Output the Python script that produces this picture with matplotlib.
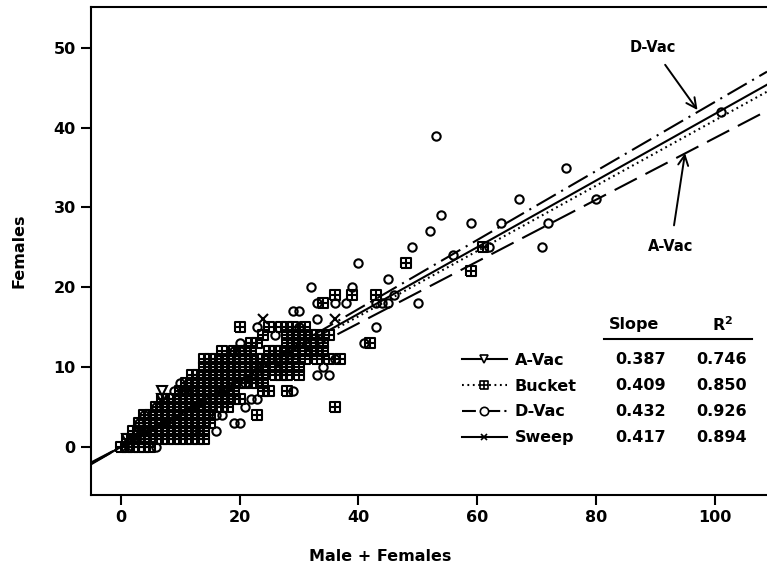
import numpy as np
import matplotlib
matplotlib.use("Agg")
import matplotlib.pyplot as plt
from matplotlib.path import Path
from matplotlib.lines import Line2D

plt.rcParams['font.family'] = ['DejaVu Sans']
plt.rcParams['font.weight'] = 'bold'
plt.rcParams['lines.scale_dashes'] = False

# regression summary
groups = ['A-Vac', 'Bucket', 'D-Vac', 'Sweep']
slopes = [0.387, 0.409, 0.432, 0.417]
r2 = [0.746, 0.850, 0.926, 0.894]

# Bucket samples, one row per female count
bucket_rows_y = [0, 1, 2, 3, 4, 5, 6, 7, 8, 9, 10, 11, 12, 13, 14, 15, 18, 19, 22, 23, 25]
bucket_rows_x = [
    [0, 1, 2, 3, 4, 5],
    [1, 2, 3, 4, 5, 6, 7, 8, 9, 10, 11, 12, 13, 14],
    [2, 3, 4, 5, 6, 7, 8, 9, 10, 11, 12, 13, 14],
    [3, 4, 5, 6, 7, 8, 9, 10, 11, 12, 13, 14, 15],
    [4, 5, 6, 7, 8, 9, 10, 11, 12, 13, 14, 15, 23],
    [6, 7, 8, 9, 10, 11, 12, 13, 14, 15, 16, 17, 18, 36],
    [7, 8, 9, 10, 11, 12, 13, 14, 15, 16, 17, 18, 19, 20],
    [10, 11, 12, 13, 14, 15, 16, 17, 18, 19, 24, 25, 28],
    [11, 12, 13, 14, 15, 16, 17, 18, 19, 20, 21, 22, 23, 24],
    [12, 13, 14, 15, 16, 17, 18, 19, 20, 21, 22, 23, 24, 26, 27, 28, 30],
    [14, 15, 16, 17, 18, 19, 20, 21, 22, 23, 24, 26, 27, 28, 30],
    [14, 15, 16, 17, 18, 19, 20, 21, 22, 23, 24, 25, 26, 27, 28, 29, 31, 33, 35, 37],
    [17, 19, 20, 21, 22, 25, 26, 27, 28, 29, 31, 32, 33, 34],
    [22, 23, 28, 29, 30, 31, 32, 34, 42],
    [24, 28, 29, 30, 31, 32, 33, 35],
    [20, 25, 27, 28, 29, 31],
    [34],
    [36, 39, 43],
    [59],
    [48],
    [61],
]

dvac_x = [6, 16, 3, 19, 20, 4, 16, 17, 6, 21, 22, 23, 9, 11, 12, 29, 10, 21, 33, 35,
          34, 36, 19, 20, 20, 41, 26, 23, 30, 43, 33, 29, 30, 33, 36, 38, 43, 44, 45, 50,
          46, 32, 39, 45, 40, 56, 49, 62, 71, 52, 59, 64, 72, 54, 67, 80, 75, 53, 101]
dvac_y = [0, 2, 3, 3, 3, 4, 4, 4, 5, 5, 6, 6, 7, 7, 7, 7, 8, 8, 9, 9,
          10, 11, 12, 12, 13, 13, 14, 15, 15, 15, 16, 17, 17, 18, 18, 18, 18, 18, 18, 18,
          19, 20, 20, 21, 23, 24, 25, 25, 25, 27, 28, 28, 28, 29, 31, 31, 35, 39, 42]

avac_x = [7, 7, 1, 2, 4, 3]
avac_y = [7, 6, 1, 1, 2, 2]

sweep_x = [24, 36, 1, 3, 13, 8]
sweep_y = [16, 16, 0, 1, 2, 3]

bucket_x = [x for row in bucket_rows_x for x in row]
bucket_y = [y for y, row in zip(bucket_rows_y, bucket_rows_x) for _ in row]

# square with a cross inside, like the bucket symbol
grid_sq = Path([(-1, -1), (1, -1), (1, 1), (-1, 1), (-1, -1),
                (0, -1), (0, 1), (-1, 0), (1, 0)],
               [Path.MOVETO, Path.LINETO, Path.LINETO, Path.LINETO, Path.LINETO,
                Path.MOVETO, Path.LINETO, Path.MOVETO, Path.LINETO])

fig = plt.figure(figsize=(7.67, 5.72), dpi=100)
ax = fig.add_axes([91 / 767, 77 / 572, 676 / 767, 488 / 572])

mk = dict(linestyle='none', color='black', mfc='none', mew=1.5)
ax.plot(bucket_x, bucket_y, marker=grid_sq, ms=6.5, **mk)
ax.plot(dvac_x, dvac_y, marker='o', ms=6, **mk)
ax.plot(avac_x, avac_y, marker='v', ms=6.5, **mk)
ax.plot(sweep_x, sweep_y, marker='x', ms=6.5, **mk)

styles = {
    'A-Vac': (0, (18, 7)),
    'Bucket': (0, (1.3, 2.6)),
    'D-Vac': (0, (16, 4.5, 1.5, 4.5)),
    'Sweep': '-',
}
for g, s in zip(groups, slopes):
    ax.axline((0, 0), slope=s, color='black', lw=1.5, linestyle=styles[g])

ax.set_xlim(-5, 108.8)
ax.set_ylim(-6, 55.1)
ax.set_xticks([0, 20, 40, 60, 80, 100])
ax.set_yticks([0, 10, 20, 30, 40, 50])
ax.tick_params(direction='out', length=7, width=1.5, labelsize=11.5, pad=4)
for side in ['left', 'bottom', 'top']:
    ax.spines[side].set_linewidth(1.5)
ax.spines['right'].set_visible(False)
ax.set_xlabel('Male + Females', fontsize=11.5, fontweight='bold')
ax.set_ylabel('Females', fontsize=11.5, fontweight='bold')
ax.xaxis.set_label_coords(0.4275, -0.11)
ax.yaxis.set_label_coords(-0.096, 0.5)

ax.annotate('D-Vac', xy=(97.1, 42.2), xytext=(89.6, 50.0), ha='center', va='center',
            fontsize=10.5, fontweight='bold',
            arrowprops=dict(arrowstyle='->', lw=1.4, color='black', mutation_scale=18,
                            shrinkA=6, shrinkB=0))
ax.annotate('A-Vac', xy=(95.0, 36.8), xytext=(92.6, 25.1), ha='center', va='center',
            fontsize=10.5, fontweight='bold',
            arrowprops=dict(arrowstyle='->', lw=1.4, color='black', mutation_scale=18,
                            shrinkA=8, shrinkB=0))

# legend with table of slope and R^2
handles = [
    Line2D([], [], color='black', lw=1.5, marker='v', ms=6, mfc='white', mew=1.2),
    Line2D([], [], color='black', lw=1.5, ls=(0, (1.3, 2.6)), marker=grid_sq, ms=6,
           mfc='white', mew=1.2),
    Line2D([], [], color='black', lw=1.5, ls=(0, (10, 3, 1.5, 3)), marker='o', ms=6,
           mfc='white', mew=1.2),
    Line2D([], [], color='black', lw=1.5, marker='x', ms=5, mew=1.2),
]
ax.legend(handles, groups, loc='center left', bbox_to_anchor=((462 - 91) / 676, (495 - 399) / 488),
          frameon=False, fontsize=11.5, handlelength=2.8, handletextpad=0.5,
          labelspacing=0.68, borderpad=0, borderaxespad=0)

def axf(px, py):
    return (px - 91) / 676, (495 - py) / 488

row_py = [360, 386, 412, 438]
tx, ty = axf(634, 325)
ax.text(tx, ty, 'Slope', transform=ax.transAxes, ha='center', va='center', fontsize=11.5)
tx, ty = axf(723, 325)
ax.text(tx, ty, 'R$^\\mathbf{2}$', transform=ax.transAxes, ha='center', va='center', fontsize=11.5)
x0, yl = axf(604, 339)
x1, _ = axf(752, 339)
ax.plot([x0, x1], [yl, yl], color='black', lw=1.5, transform=ax.transAxes, clip_on=False)
for py, s, r in zip(row_py, slopes, r2):
    tx, ty = axf(641, py)
    ax.text(tx, ty, f'{s:.3f}', transform=ax.transAxes, ha='center', va='center', fontsize=11.5)
    tx, ty = axf(722, py)
    ax.text(tx, ty, f'{r:.3f}', transform=ax.transAxes, ha='center', va='center', fontsize=11.5)

fig.savefig('out.png', dpi=100)
